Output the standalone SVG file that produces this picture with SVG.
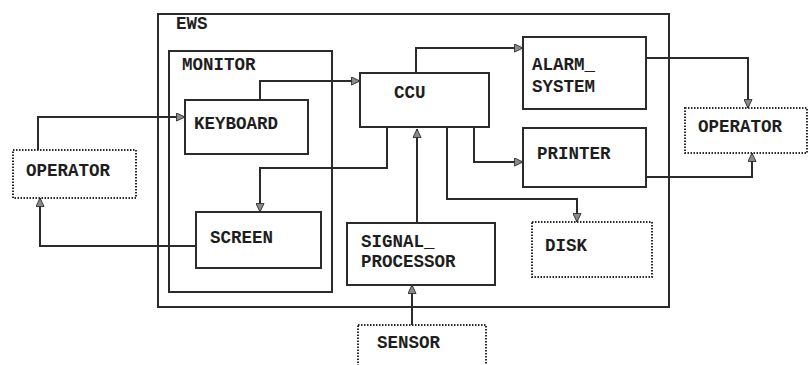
<svg xmlns="http://www.w3.org/2000/svg" width="809" height="365" viewBox="0 0 809 365">
<style>
.box{fill:none;stroke:#2b2b2b;stroke-width:2}
.dot{fill:none;stroke:#2b2b2b;stroke-width:2;stroke-dasharray:1.5 1.5}
.lbl{font-family:"Liberation Mono","DejaVu Sans Mono",monospace;font-weight:bold;font-size:17.5px;fill:#1e1e1e}
.wire{fill:none;stroke:#2b2b2b;stroke-width:2;marker-end:url(#arr)}
</style>
<defs>
<marker id="arr" viewBox="0 0 10 10" refX="10" refY="5" markerWidth="10" markerHeight="9" markerUnits="userSpaceOnUse" orient="auto">
<path d="M0.5,0.5 L10,5 L0.5,9.5 z" fill="#8a8a8a" stroke="#2b2b2b" stroke-width="1"/>
</marker>
</defs>
<rect width="809" height="365" fill="#fff"/>
<g id="ews">
<rect class="box" x="158" y="14" width="511" height="293"/>
<text class="lbl" x="176" y="29">EWS</text>
</g>
<g id="monitor">
<rect class="box" x="169" y="51" width="163" height="241"/>
<text class="lbl" x="182" y="70">MONITOR</text>
</g>
<g id="keyboard">
<rect class="box" x="185" y="100" width="123" height="54"/>
<text class="lbl" x="194" y="129">KEYBOARD</text>
</g>
<g id="screen">
<rect class="box" x="196" y="212" width="125" height="56"/>
<text class="lbl" x="210" y="243">SCREEN</text>
</g>
<g id="ccu">
<rect class="box" x="360" y="73" width="129" height="54"/>
<text class="lbl" x="394" y="98">CCU</text>
</g>
<g id="alarm_system">
<rect class="box" x="523" y="37" width="123" height="72"/>
<text class="lbl" x="532" y="70">ALARM_</text>
<text class="lbl" x="532" y="92">SYSTEM</text>
</g>
<g id="printer">
<rect class="box" x="523" y="128" width="123" height="59"/>
<text class="lbl" x="537" y="159">PRINTER</text>
</g>
<g id="disk">
<rect class="dot" x="532" y="222" width="120" height="55"/>
<text class="lbl" x="545" y="251">DISK</text>
</g>
<g id="signal_processor">
<rect class="box" x="347" y="223" width="148" height="62"/>
<text class="lbl" x="361" y="247">SIGNAL_</text>
<text class="lbl" x="361" y="267">PROCESSOR</text>
</g>
<g id="sensor">
<rect class="dot" x="358" y="325" width="128" height="50"/>
<text class="lbl" x="377" y="348">SENSOR</text>
</g>
<g id="operator_left">
<rect class="dot" x="13" y="150" width="123" height="48"/>
<text class="lbl" x="26" y="176">OPERATOR</text>
</g>
<g id="operator_right">
<rect class="dot" x="685" y="108" width="122" height="45"/>
<text class="lbl" x="698" y="132">OPERATOR</text>
</g>
<g id="connectors">
<path class="wire" d="M38,150 V117 H185"/>
<path class="wire" d="M196,246 H40 V198"/>
<path class="wire" d="M260,100 V81 H360"/>
<path class="wire" d="M387,127 V168 H260 V212"/>
<path class="wire" d="M416,73 V48 H523"/>
<path class="wire" d="M646,58 H748 V108"/>
<path class="wire" d="M474,127 V162 H523"/>
<path class="wire" d="M646,177 H752 V153"/>
<path class="wire" d="M447,127 V199 H577 V222"/>
<path class="wire" d="M417,223 V129"/>
<path class="wire" d="M412,325 V285"/>
</g>
</svg>
